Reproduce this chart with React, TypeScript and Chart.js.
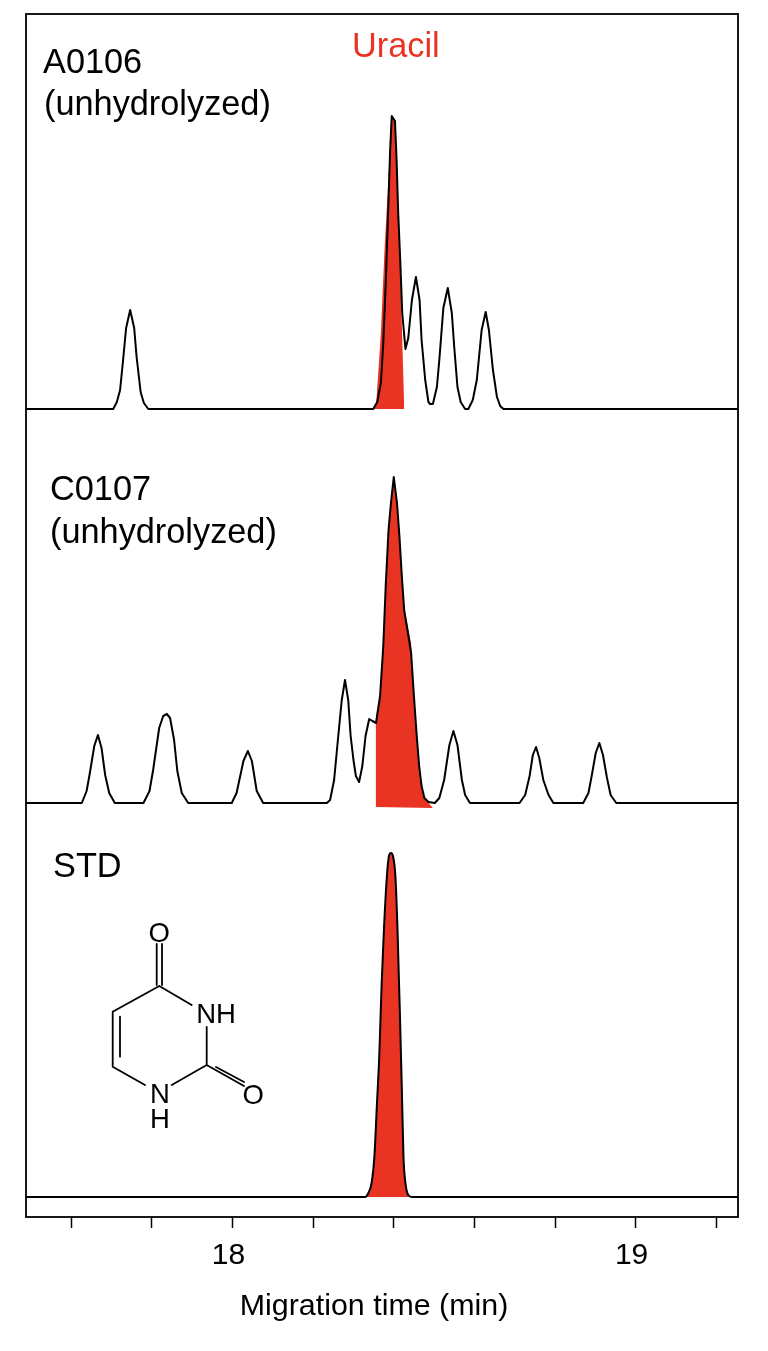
import React, { useEffect, useRef } from "react";
import { Chart, registerables } from "chart.js";

Chart.register(...registerables);

const FONT = '"Liberation Sans", Arial, Helvetica, sans-serif';
const RED = "#ea3423";

const xTickValues = [17.6, 17.8, 18, 18.2, 18.4, 18.6, 18.8, 19, 19.2];
const xTickLabels = [18, 19];
const xAxisTitle = "Migration time (min)";

const baselineA = 808;
const baselineC = 414;
const baselineS = 20;

const traceATime = [
  17.488, 17.704, 17.713, 17.721, 17.728, 17.736, 17.746, 17.756, 17.762, 17.772, 17.78, 17.791,
  18.349, 18.359, 18.368, 18.374, 18.381, 18.387, 18.391, 18.395, 18.403, 18.407, 18.411, 18.416, 18.421, 18.429,
  18.436, 18.445, 18.455, 18.464, 18.469, 18.478, 18.486, 18.49, 18.497, 18.507, 18.513, 18.523, 18.534, 18.544,
  18.55, 18.558, 18.566, 18.577, 18.585, 18.596, 18.606, 18.618, 18.628, 18.636, 18.646, 18.656, 18.664, 18.672, 19.254,
];
const traceASignal = [
  0, 0, 7, 19, 47, 81, 99, 81, 52, 17, 6, 0,
  0, 7, 26, 66, 136, 209, 259, 293, 288, 249, 196, 149, 96, 60,
  71, 109, 132, 109, 69, 29, 7, 5, 5, 22, 49, 101, 121, 96,
  62, 22, 7, 0, 0, 9, 29, 79, 97, 79, 39, 12, 3, 0, 0,
];
const peakATime = [18.347, 18.356, 18.368, 18.377, 18.387, 18.395, 18.403, 18.414, 18.426];
const peakASignal = [0, 3, 76, 159, 232, 292, 287, 169, 0];

const traceCTime = [
  17.488, 17.626, 17.638, 17.646, 17.657, 17.666, 17.675, 17.684, 17.694, 17.708,
  17.779, 17.794, 17.803, 17.818, 17.828, 17.837, 17.845, 17.855, 17.863, 17.874, 17.89,
  17.998, 18.01, 18.027, 18.038, 18.048, 18.06, 18.076,
  18.234, 18.242, 18.252, 18.263, 18.271, 18.279, 18.287, 18.293, 18.3, 18.306, 18.314, 18.322, 18.33, 18.339,
  18.347, 18.356, 18.366, 18.374, 18.38, 18.387, 18.393, 18.4, 18.408, 18.414, 18.42, 18.426, 18.434, 18.443,
  18.45, 18.457, 18.463, 18.469, 18.476, 18.486, 18.502, 18.513, 18.525, 18.538, 18.548, 18.558, 18.569, 18.577, 18.589,
  18.712, 18.726, 18.737, 18.745, 18.753, 18.761, 18.771, 18.784, 18.796,
  18.87, 18.883, 18.891, 18.901, 18.91, 18.919, 18.929, 18.938, 18.952, 19.254,
];
const traceCSignal = [
  0, 0, 12, 30, 57, 68, 55, 28, 10, 0,
  0, 12, 33, 75, 87, 89, 85, 63, 32, 10, 0,
  0, 10, 42, 52, 42, 12, 0,
  0, 3, 23, 70, 103, 123, 103, 67, 43, 27, 21, 37, 67, 84,
  82, 80, 107, 157, 217, 273, 300, 326, 300, 267, 227, 192, 173, 150,
  107, 67, 37, 17, 5, 1, 0, 5, 23, 58, 72, 58, 23, 8, 0,
  0, 8, 27, 48, 56, 45, 23, 8, 0,
  0, 10, 27, 50, 60, 48, 25, 8, 0, 0,
];
const peakCTime = [18.355, 18.366, 18.374, 18.38, 18.387, 18.393, 18.4, 18.408, 18.414, 18.42, 18.426, 18.434, 18.443, 18.45, 18.457, 18.463, 18.469, 18.476, 18.497];
const peakCSignal = [85, 107, 157, 217, 273, 300, 326, 305, 270, 230, 197, 178, 160, 107, 67, 37, 17, 5, -5];
const peakCFloorTime = [18.355, 18.497];
const peakCFloorSignal = [-4, -5];

const traceSTime = [
  17.488, 18.329, 18.337, 18.345, 18.352, 18.358, 18.364, 18.37, 18.376, 18.383, 18.388, 18.393,
  18.398, 18.404, 18.409, 18.416, 18.42, 18.424, 18.43, 18.436, 18.445, 19.254,
];
const traceSSignal = [0, 0, 4, 14, 41, 91, 141, 214, 271, 321, 341, 344, 341, 321, 271, 171, 108, 41, 11, 2, 0, 0];

const points = (xs: number[], ys: number[], base: number) => xs.map((x, i) => ({ x, y: ys[i] + base }));

const line = (label: string, data: { x: number; y: number }[]) => ({
  label,
  data,
  showLine: true,
  borderColor: "#000",
  borderWidth: 2,
  borderJoinStyle: "round",
  tension: 0,
  pointRadius: 0,
  fill: false,
  order: 1,
});

const redArea = (label: string, data: { x: number; y: number }[], fill: any) => ({
  label,
  data,
  showLine: true,
  borderWidth: 0,
  borderColor: "rgba(0,0,0,0)",
  backgroundColor: RED,
  pointRadius: 0,
  tension: 0,
  fill,
  order: 2,
});

const annotations = {
  id: "annotations",
  afterDraw(chart: any) {
    const { ctx, chartArea: a } = chart;
    ctx.save();
    ctx.strokeStyle = "#000";
    ctx.lineWidth = 1.8;
    ctx.strokeRect(a.left, a.top, a.right - a.left, a.bottom - a.top);

    ctx.textBaseline = "middle";
    ctx.textAlign = "left";
    ctx.font = `34.3px ${FONT}`;
    ctx.fillStyle = RED;
    ctx.fillText("Uracil", 352, 48);
    ctx.fillStyle = "#000";
    ctx.fillText("A0106", 43, 64);
    ctx.fillText("(unhydrolyzed)", 44, 106);
    ctx.fillText("C0107", 50, 491);
    ctx.fillText("(unhydrolyzed)", 50, 534);
    ctx.fillText("STD", 53, 868);

    ctx.font = `30.4px ${FONT}`;
    ctx.textAlign = "center";
    ctx.fillText(xAxisTitle, 374, 1307);

    const bonds = [
      [156.7, 944, 156.7, 985],
      [162, 944, 162, 985],
      [159.3, 986, 191.7, 1005],
      [206.7, 1027, 206.7, 1065],
      [206.7, 1065, 244, 1086],
      [216, 1067, 244, 1082],
      [206.7, 1065, 171.7, 1085],
      [145, 1085, 112.7, 1066.7],
      [112.7, 1066.7, 112.7, 1011.7],
      [120, 1056.7, 120, 1016.7],
      [112.7, 1011.7, 159.3, 986],
    ];
    ctx.lineWidth = 1.8;
    ctx.lineCap = "round";
    ctx.beginPath();
    for (const [x1, y1, x2, y2] of bonds) {
      ctx.moveTo(x1, y1);
      ctx.lineTo(x2, y2);
    }
    ctx.stroke();

    ctx.font = `27.5px ${FONT}`;
    ctx.textAlign = "center";
    ctx.fillText("O", 159.3, 934);
    ctx.fillText("NH", 216, 1015);
    ctx.fillText("O", 253.3, 1096);
    ctx.fillText("N", 160, 1095);
    ctx.fillText("H", 160, 1120);
    ctx.restore();
  },
};

export default function App() {
  const ref = useRef<HTMLCanvasElement>(null);

  useEffect(() => {
    if (!ref.current) return;
    const chart = new Chart(ref.current, {
      type: "scatter",
      data: {
        datasets: [
          line("A0106", points(traceATime, traceASignal, baselineA)),
          line("C0107", points(traceCTime, traceCSignal, baselineC)),
          { ...line("STD", points(traceSTime, traceSSignal, baselineS)), cubicInterpolationMode: "monotone" },
          redArea("A0106 uracil", points(peakATime, peakASignal, baselineA), { value: baselineA }),
          redArea("C0107 uracil", points(peakCTime, peakCSignal, baselineC), "+1"),
          redArea("C0107 uracil floor", points(peakCFloorTime, peakCFloorSignal, baselineC), false),
          {
            ...redArea("STD uracil", points(traceSTime.slice(1, -1), traceSSignal.slice(1, -1), baselineS), { value: baselineS }),
            cubicInterpolationMode: "monotone",
          },
        ],
      } as any,
      plugins: [annotations],
      options: {
        animation: false,
        responsive: false,
        events: [],
        layout: { padding: { left: 26, right: 30, top: 14, bottom: 30 } },
        plugins: { legend: { display: false }, tooltip: { enabled: false }, title: { display: false } },
        scales: {
          x: {
            type: "linear",
            min: 17.4876,
            max: 19.254,
            afterBuildTicks: (scale: any) => {
              scale.ticks = xTickValues.map((value) => ({ value }));
            },
            afterFit: (scale: any) => {
              scale.height = 104;
            },
            grid: { display: true, drawOnChartArea: false, drawTicks: true, tickLength: 11, tickColor: "#000", tickWidth: 1.5 },
            border: { display: false },
            ticks: {
              color: "#000",
              font: { family: FONT, size: 30 },
              padding: 10,
              labelOffset: -4,
              autoSkip: false,
              maxRotation: 0,
              callback: (v: any) => (xTickLabels.includes(Number(v)) ? String(v) : ""),
            },
          },
          y: { type: "linear", min: 0, max: 1203, display: false },
        },
      } as any,
    });
    return () => chart.destroy();
  }, []);

  return (
    <div style={{ position: "absolute", left: 0, top: 0 }}>
      <canvas ref={ref} width={768} height={1351} style={{ display: "block" }} />
    </div>
  );
}
